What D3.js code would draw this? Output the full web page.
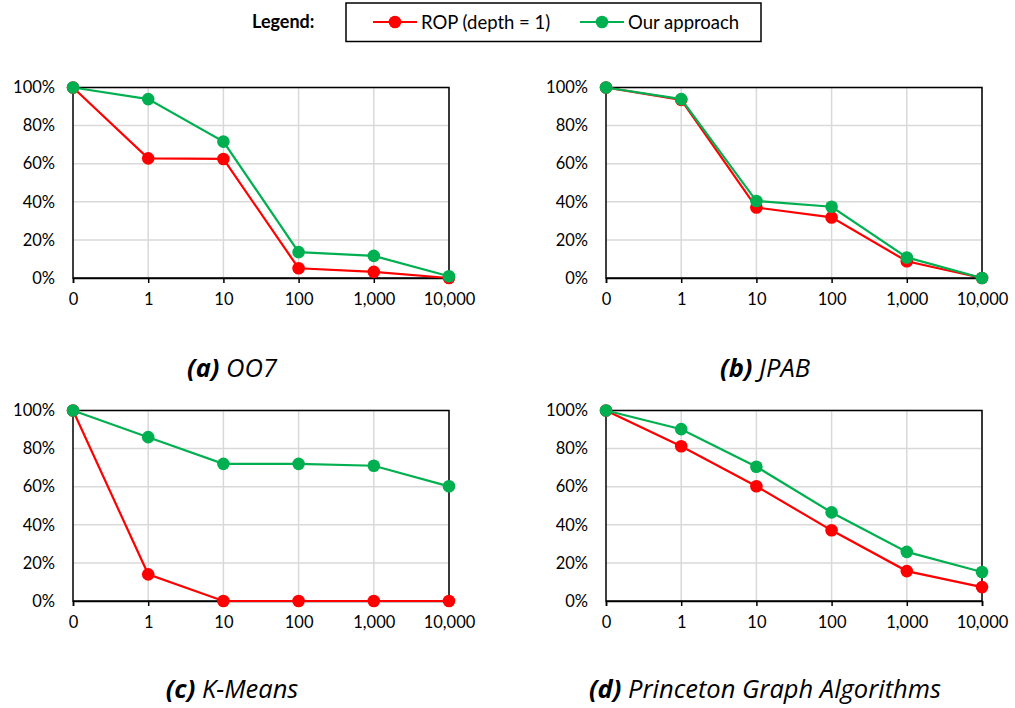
<!DOCTYPE html>
<html>
<head>
<meta charset="utf-8">
<script src="https://cdn.jsdelivr.net/npm/d3@7"></script>
<style>
  body { margin: 0; background: #fff; }
  text { font-family: Lato, "Open Sans", sans-serif; fill: #000; }
  text.caption { font-family: "Open Sans", sans-serif; }
</style>
</head>
<body>
<svg width="1015" height="708"></svg>
<script>
// categories on the x axis
var categories = ["0", "1", "10", "100", "1,000", "10,000"];
var yTicks = [0, 0.2, 0.4, 0.6, 0.8, 1];
var seriesNames = ["ROP (depth = 1)", "Our approach"];
var seriesColors = ["#ff0000", "#00b050"];

// values in percent
var oo7Rop    = [100, 62.8, 62.5, 5.1, 3.2, 0];
var oo7Ours   = [100, 93.9, 71.6, 13.6, 11.6, 0.9];
var jpabRop   = [100, 93.5, 37, 31.8, 8.8, 0];
var jpabOurs  = [100, 93.9, 40.4, 37.4, 10.8, 0];
var kmRop     = [100, 14, 0, 0, 0, 0];
var kmOurs    = [100, 86, 72, 72, 71, 60.2];
var pgaRop    = [100, 81.2, 60.2, 37.1, 15.7, 7.3];
var pgaOurs   = [100, 90.2, 70.5, 46.5, 25.8, 15.2];

var captionLetters = ["(a)", "(b)", "(c)", "(d)"];
var captionNames = ["OO7", "JPAB", "K-Means", "Princeton Graph Algorithms"];

var panels = [
  {rop: oo7Rop,  ours: oo7Ours,  left: 73,  top: 87.5},
  {rop: jpabRop, ours: jpabOurs, left: 606, top: 87.5},
  {rop: kmRop,   ours: kmOurs,   left: 73,  top: 410.5},
  {rop: pgaRop,  ours: pgaOurs,  left: 606, top: 410.5}
];

var svg = d3.select("svg"),
    pw = 376,
    ph = 190.5;

var x = d3.scalePoint().domain(categories).range([0, pw]);
var y = d3.scaleLinear().domain([0, 1]).range([ph, 0]);

var line = d3.line()
    .x(function(d, i) { return x(categories[i]); })
    .y(function(d) { return y(d / 100); });

panels.forEach(function(p, k) {
  var g = svg.append("g")
      .attr("transform", "translate(" + p.left + "," + p.top + ")");

  // grid lines
  g.append("g").selectAll("line.h")
      .data(yTicks.slice(1))
    .enter().append("line")
      .attr("x1", 0).attr("x2", pw)
      .attr("y1", function(d) { return y(d); })
      .attr("y2", function(d) { return y(d); })
      .attr("stroke", "#d9d9d9").attr("stroke-width", 1.5);
  g.append("g").selectAll("line.v")
      .data(categories.slice(1))
    .enter().append("line")
      .attr("x1", function(d) { return x(d); })
      .attr("x2", function(d) { return x(d); })
      .attr("y1", 0).attr("y2", ph)
      .attr("stroke", "#d9d9d9").attr("stroke-width", 1.5);

  // frame
  g.append("rect")
      .attr("width", pw).attr("height", ph)
      .attr("fill", "none").attr("stroke", "#000").attr("stroke-width", 1.5);

  var yAxis = d3.axisLeft(y).tickValues(yTicks).tickFormat(d3.format(".0%"))
      .tickSize(0).tickPadding(18);
  g.append("g").call(yAxis)
      .call(function(a) { a.select(".domain").remove(); })
      .selectAll("text").style("font-size", "16.5px").attr("fill", "#000");

  var xAxis = d3.axisBottom(x).tickSize(5).tickPadding(10);
  g.append("g").attr("transform", "translate(0," + ph + ")").call(xAxis)
      .call(function(a) { a.select(".domain").attr("stroke-width", 1.5); })
      .call(function(a) { a.selectAll(".tick line").attr("stroke-width", 1.5); })
      .selectAll("text").style("font-size", "16.5px").attr("fill", "#000");

  [p.rop, p.ours].forEach(function(vals, s) {
    g.append("path")
        .datum(vals)
        .attr("fill", "none")
        .attr("stroke", seriesColors[s])
        .attr("stroke-width", 2.2)
        .attr("d", line);
    g.append("g").selectAll("circle")
        .data(vals)
      .enter().append("circle")
        .attr("cx", function(d, i) { return x(categories[i]); })
        .attr("cy", function(d) { return y(d / 100); })
        .attr("r", 6.3)
        .attr("fill", seriesColors[s]);
  });

  // caption
  var cap = svg.append("text")
      .attr("class", "caption")
      .attr("x", k % 2 === 0 ? 232 : 765)
      .attr("y", k < 2 ? 377 : 698)
      .attr("text-anchor", "middle")
      .style("font-size", "25.5px")
      .style("font-style", "italic");
  cap.append("tspan").style("font-weight", "bold").text(captionLetters[k]);
  cap.append("tspan").text(" " + captionNames[k]);
});

// legend
svg.append("text")
    .attr("x", 252).attr("y", 28)
    .style("font-size", "18px").style("font-weight", "bold")
    .text("Legend:");
svg.append("rect")
    .attr("x", 346).attr("y", 3).attr("width", 415).attr("height", 38.5)
    .attr("fill", "none").attr("stroke", "#000").attr("stroke-width", 1.5);

var legendX = [373, 580];
var item = svg.append("g").selectAll("g")
    .data(seriesNames)
  .enter().append("g")
    .attr("transform", function(d, i) { return "translate(" + legendX[i] + ",22)"; });
item.append("line")
    .attr("x1", 0).attr("x2", 44)
    .attr("stroke", function(d, i) { return seriesColors[i]; })
    .attr("stroke-width", 2.2);
item.append("circle")
    .attr("cx", 22).attr("r", 6.3)
    .attr("fill", function(d, i) { return seriesColors[i]; });
item.append("text")
    .attr("x", 48).attr("y", 6.5)
    .style("font-size", "18.5px")
    .text(function(d) { return d; });
</script>
</body>
</html>
